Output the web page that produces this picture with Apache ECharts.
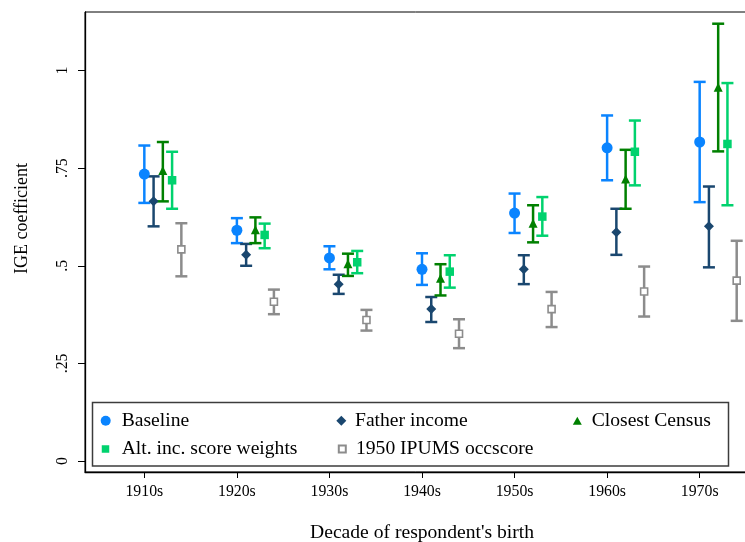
<!DOCTYPE html>
<html><head><meta charset="utf-8">
<script src="https://cdn.jsdelivr.net/npm/echarts@6/dist/echarts.min.js"></script>
<style>html,body{margin:0;padding:0;background:#fff}#c{width:745px;height:542px}</style>
</head><body><div id="c"></div>
<script>
const decades = ['1910s','1920s','1930s','1940s','1950s','1960s','1970s'];
const yTickValues = [0, 0.25, 0.5, 0.75, 1];
const yTickLabels = ['0', '.25', '.5', '.75', '1'];

const baselineEst = [0.735, 0.591, 0.520, 0.491, 0.635, 0.802, 0.817];
const baselineLo  = [0.661, 0.558, 0.491, 0.451, 0.584, 0.719, 0.663];
const baselineHi  = [0.808, 0.622, 0.550, 0.532, 0.685, 0.885, 0.971];

const fatherEst = [0.665, 0.528, 0.453, 0.389, 0.491, 0.586, 0.601];
const fatherLo  = [0.601, 0.500, 0.428, 0.356, 0.453, 0.528, 0.496];
const fatherHi  = [0.729, 0.556, 0.477, 0.420, 0.527, 0.646, 0.703];

const closestEst = [0.744, 0.592, 0.505, 0.468, 0.609, 0.722, 0.957];
const closestLo  = [0.665, 0.558, 0.474, 0.424, 0.560, 0.646, 0.793];
const closestHi  = [0.817, 0.624, 0.531, 0.504, 0.655, 0.797, 1.120];

const altEst = [0.719, 0.579, 0.509, 0.485, 0.626, 0.792, 0.812];
const altLo  = [0.646, 0.545, 0.481, 0.444, 0.577, 0.706, 0.655];
const altHi  = [0.792, 0.608, 0.538, 0.527, 0.676, 0.872, 0.968];

const ipumsEst = [0.542, 0.408, 0.361, 0.326, 0.389, 0.434, 0.462];
const ipumsLo  = [0.473, 0.376, 0.334, 0.289, 0.343, 0.370, 0.359];
const ipumsHi  = [0.609, 0.439, 0.387, 0.363, 0.433, 0.498, 0.564];

const FONT = '"Liberation Serif", "Times New Roman", serif';

const defs = [
  {name:'Baseline', est:baselineEst, lo:baselineLo, hi:baselineHi, off:0.0, color:'#0a84ff', symbol:'circle', size:11},
  {name:'Father income', est:fatherEst, lo:fatherLo, hi:fatherHi, off:0.1, color:'#1a476f', symbol:'diamond', size:10},
  {name:'Closest Census', est:closestEst, lo:closestLo, hi:closestHi, off:0.2, color:'#008000', symbol:'triangle', size:9},
  {name:'Alt. inc. score weights', est:altEst, lo:altLo, hi:altHi, off:0.3, color:'#00d26e', symbol:'rect', size:8.5},
  {name:'1950 IPUMS occscore', est:ipumsEst, lo:ipumsLo, hi:ipumsHi, off:0.4, color:'#8c8c8c', symbol:'rect', size:7, hollow:true}
];

const series = [];
defs.forEach(d => {
  series.push({
    name: d.name + ' CI', type:'custom', z:2, silent:true,
    encode:{x:0, y:[1,2]},
    data: decades.map((_, i) => [i + 1 + d.off, d.lo[i], d.hi[i]]),
    renderItem: function(params, api) {
      const x = api.value(0);
      const pLo = api.coord([x, api.value(1)]);
      const pHi = api.coord([x, api.value(2)]);
      const hw = 6;
      const st = {stroke:d.color, lineWidth:2.5, fill:null};
      return {type:'group', children:[
        {type:'line', shape:{x1:pLo[0], y1:pLo[1], x2:pHi[0], y2:pHi[1]}, style:st},
        {type:'line', shape:{x1:pHi[0]-hw, y1:pHi[1], x2:pHi[0]+hw, y2:pHi[1]}, style:st},
        {type:'line', shape:{x1:pLo[0]-hw, y1:pLo[1], x2:pLo[0]+hw, y2:pLo[1]}, style:st}
      ]};
    }
  });
});
defs.forEach(d => {
  series.push({
    name: d.name, type:'scatter', z:3, symbol:d.symbol, symbolSize:d.size,
    itemStyle: d.hollow ? {color:'#ffffff', borderColor:d.color, borderWidth:1.6, opacity:1} : {color:d.color, opacity:1},
    emphasis:{disabled:true},
    data: decades.map((_, i) => [i + 1 + d.off, d.est[i]])
  });
});

// name, icon centre x, row centre y, icon w, icon h, text start x
function mkLegend(name, cx, cy, w, h, textX) {
  const left = cx - w / 2;
  const pad = textX - (left + w + 5);
  return {
    data:[name], left:left, top:cy - 10, orient:'vertical', padding:0, z:10,
    selectedMode:false, itemWidth:w, itemHeight:h,
    textStyle:{fontFamily:FONT, fontSize:19.6, color:'#000', lineHeight:20, padding:[0,0,0,pad]}
  };
}

const chart = echarts.init(document.getElementById('c'), null, {renderer:'canvas'});
chart.setOption({
  animation:false,
  backgroundColor:'#fff',
  grid:{left:85, right:-14, top:12, bottom:70, show:true, borderColor:'#000', borderWidth:1, outerBoundsMode:'none', containLabel:false},
  xAxis:{
    type:'value', min:0.359, max:7.641,
    axisLine:{show:true, onZero:false, lineStyle:{color:'#000', width:1.3}},
    axisTick:{show:true, customValues:[1,2,3,4,5,6,7], length:6, lineStyle:{color:'#000', width:1}},
    axisLabel:{customValues:[1,2,3,4,5,6,7], formatter:v => decades[Math.round(v)-1], fontFamily:FONT, fontSize:15.8, color:'#000', margin:12},
    splitLine:{show:false},
    name:"Decade of respondent's birth", nameLocation:'middle', nameGap:51,
    nameTextStyle:{fontFamily:FONT, fontSize:19.6, color:'#000'}
  },
  yAxis:{
    type:'value', min:-0.0282, max:1.150,
    axisLine:{show:true, onZero:false, lineStyle:{color:'#000', width:1.3}},
    axisTick:{show:true, customValues:yTickValues, length:7, lineStyle:{color:'#000', width:1}},
    axisLabel:{customValues:yTickValues, rotate:90, margin:14, fontFamily:FONT, fontSize:15.8, color:'#000',
      formatter:v => { const i = yTickValues.findIndex(t => Math.abs(t - v) < 1e-6); return i >= 0 ? yTickLabels[i] : ''; }},
    splitLine:{show:false}
  },
  legend:[
    mkLegend('Baseline', 105.7, 420.7, 10, 10, 121.7),
    mkLegend('Alt. inc. score weights', 105.5, 449, 7.5, 7.5, 121.7),
    mkLegend('Father income', 341.3, 420.7, 10, 10, 355),
    mkLegend('1950 IPUMS occscore', 341.3, 449, 7, 7, 355),
    mkLegend('Closest Census', 577.3, 420.7, 9, 8, 591.7)
  ],
  graphic:[
    {type:'rect', z:1, shape:{x:92.5, y:402.5, width:636, height:63.5}, style:{fill:'#fff', stroke:'#3c3c3c', lineWidth:1.5}},
    {type:'text', x:22, y:218.5, rotation:Math.PI/2, style:{text:'IGE coefficient', font:'18px ' + FONT, fill:'#000', textAlign:'center', textVerticalAlign:'middle'}}
  ],
  series: series
});
</script>
</body></html>
